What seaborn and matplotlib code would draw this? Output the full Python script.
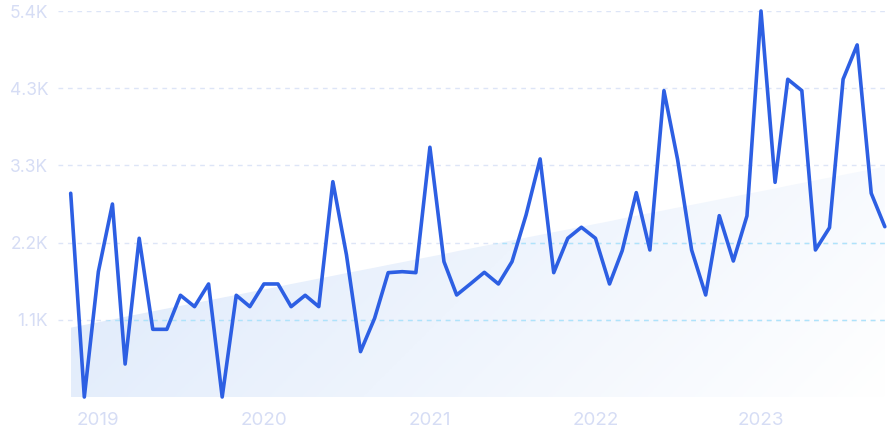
import numpy as np
import pandas as pd
import matplotlib
matplotlib.use("Agg")
import matplotlib.pyplot as plt
import matplotlib.dates as mdates
import seaborn as sns

# ================= data =================
months = pd.date_range("2018-11-01", "2023-10-01", freq="MS")
values = [2866, 0, 1763, 2715, 464, 2233, 952, 952, 1431, 1271,
          1590, 0, 1431, 1271, 1590, 1590, 1271, 1431, 1271, 3029,
          2000, 638, 1107, 1749, 1763, 1749, 3513, 1904, 1435, 1595,
          1754, 1590, 1904, 2561, 3349, 1749, 2233, 2388, 2233, 1590,
          2059, 2875, 2068, 4310, 3344, 2068, 1435, 2551, 1913, 2547,
          5430, 3020, 4470, 4310, 2068, 2382, 4470, 4953, 2866, 2396]
trend_ends = [975, 3240]          # light trend area, first / last month
y_max = 5430
y_ticks = [y_max / 5 * i for i in range(1, 6)]
y_labels = ["1.1K", "2.2K", "3.3K", "4.3K", "5.4K"]
year_ticks = pd.to_datetime(["2019-01-01", "2020-01-01", "2021-01-01", "2022-01-01", "2023-01-01"])
year_labels = ["2019", "2020", "2021", "2022", "2023"]

df = pd.DataFrame({"month": months, "value": values})
trend = np.linspace(trend_ends[0], trend_ends[1], len(months))

LINE = "#2d5fe3"
LABEL = "#d6ddf5"
GRID = "#dde5f7"
GRID_IN = "#aee3fb"

sns.set_style("white")
plt.rcParams["font.family"] = ["Inter", "DejaVu Sans"]

fig = plt.figure(figsize=(8.88, 4.43), dpi=100)
ax = fig.add_axes([58 / 888, 46 / 443, 830 / 888, 386 / 443])

# trend area with soft gradient
poly = ax.fill_between(df["month"], 0, trend, color="none", lw=0)
xn = np.linspace(0, 1, 200)[None, :]
yn = np.linspace(1, 0, 100)[:, None]
t = np.clip(0.78 * xn + 0.22 * (1 - yn), 0, 1)
base = np.array(matplotlib.colors.to_rgb("#dde9fb"))
img = base * (1 - t[..., None]) + t[..., None] * 1.0
x0, x1 = mdates.date2num(months[0]), mdates.date2num(months[-1])
im = ax.imshow(img, extent=[x0, x1, 0, max(trend_ends)], aspect="auto", origin="upper", zorder=1)
im.set_clip_path(poly.get_paths()[0], transform=ax.transData)

# dashed grid lines, cyan where they cross the trend area
for yv in y_ticks:
    ax.axhline(yv, color=GRID, lw=1, ls=(0, (3.4, 3.4)), zorder=2)
    g = ax.axhline(yv, color=GRID_IN, lw=1, ls=(0, (3.4, 3.4)), zorder=2.1)
    g.set_clip_path(poly.get_paths()[0], transform=ax.transData)

sns.lineplot(data=df, x="month", y="value", ax=ax, color=LINE, lw=2.6, zorder=3, clip_on=False)

ax.set_xlim(pd.Timestamp("2018-10-04"), pd.Timestamp("2023-10-08"))
ax.set_ylim(0, y_max)
ax.set_yticks(y_ticks)
ax.set_yticklabels(y_labels)
ax.set_xticks(year_ticks)
ax.set_xticklabels(year_labels)
ax.tick_params(axis="y", length=0, pad=7, labelsize=12.5, labelcolor=LABEL)
ax.tick_params(axis="x", length=0, pad=11, labelsize=13.5, labelcolor=LABEL)
ax.set_xlabel("")
ax.set_ylabel("")
for s in ax.spines.values():
    s.set_visible(False)
ax.grid(False)

fig.savefig("out.png", dpi=100)
